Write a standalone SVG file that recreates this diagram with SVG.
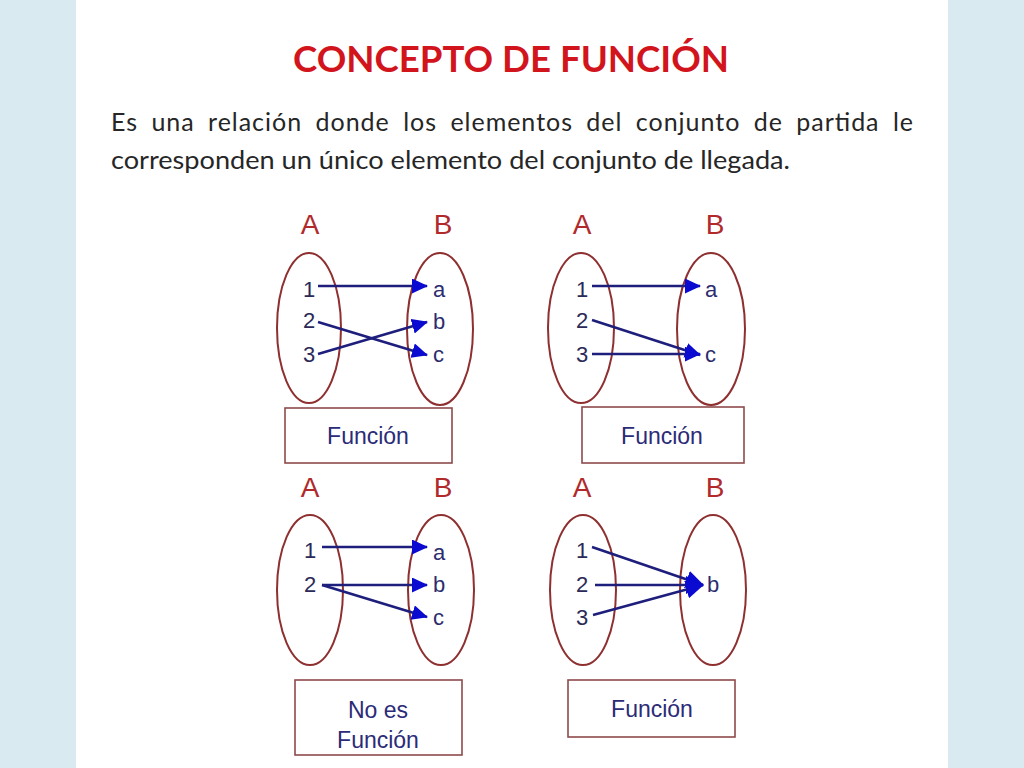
<svg xmlns="http://www.w3.org/2000/svg" width="1024" height="768" viewBox="0 0 1024 768">
<defs>
<style>
.title{font-family:Lato,"Open Sans","Liberation Sans",sans-serif;font-weight:bold;font-size:37px;fill:#d2141c}
.body{font-family:Lato,"Open Sans","Liberation Sans",sans-serif;font-size:25px;fill:#262626}
.set{font-family:"Liberation Sans",Arial,sans-serif;font-size:28px;fill:#b02a2c;text-anchor:middle}
.num{font-family:"Liberation Sans",Arial,sans-serif;font-size:22px;fill:#2a2a58;text-anchor:middle}
.let{font-family:"Liberation Sans",Arial,sans-serif;font-size:22px;fill:#2c2c6e}
.lbl{font-family:"Liberation Sans",Arial,sans-serif;font-size:23px;fill:#2b2b78;text-anchor:middle}
.ell{fill:none;stroke:#8e2f30;stroke-width:2}
.box{fill:#fff;stroke:#8e4a4c;stroke-width:1.6}
.arr{fill:none;stroke:#1e1e7c;stroke-width:2.6;marker-end:url(#ah)}
</style>
<marker id="ah" markerUnits="userSpaceOnUse" markerWidth="18" markerHeight="18" refX="15" refY="7.5" orient="auto">
<path d="M0,0 L16,7.5 L0,15 z" fill="#0a0ad0"/>
</marker>
<marker id="ahb" markerUnits="userSpaceOnUse" markerWidth="20" markerHeight="20" refX="17" refY="9" orient="auto">
<path d="M0,0 L18,9 L0,18 z" fill="#0a0ad0"/>
</marker>
</defs>
<rect x="0" y="0" width="1024" height="768" fill="#daeaf1"/>
<rect x="76" y="0" width="872" height="768" fill="#ffffff"/>
<g id="header">
<text class="title" x="293" y="72" textLength="436" lengthAdjust="spacingAndGlyphs">CONCEPTO DE FUNCIÓN</text>
<text class="body" x="111" y="131" textLength="802" lengthAdjust="spacing" word-spacing="6">Es una relación donde los elementos del conjunto de partida le</text>
<text class="body" x="111" y="169" textLength="679" lengthAdjust="spacingAndGlyphs">corresponden un único elemento del conjunto de llegada.</text>
</g>
<g id="diagram1">
<text class="set" x="310" y="234">A</text>
<text class="set" x="443" y="234">B</text>
<ellipse class="ell" cx="309" cy="328" rx="32" ry="75"/>
<ellipse class="ell" cx="440" cy="329" rx="33" ry="76"/>
<text class="num" x="309" y="297">1</text>
<text class="num" x="309" y="328">2</text>
<text class="num" x="309" y="362">3</text>
<text class="let" x="433" y="297">a</text>
<text class="let" x="433" y="329">b</text>
<text class="let" x="433" y="362">c</text>
<rect class="box" x="285" y="408" width="167" height="55"/>
<text class="lbl" x="368" y="444">Función</text>
</g>
<g id="diagram2">
<text class="set" x="582" y="234">A</text>
<text class="set" x="715" y="234">B</text>
<ellipse class="ell" cx="581" cy="328" rx="33" ry="75"/>
<ellipse class="ell" cx="711" cy="329" rx="34" ry="76"/>
<text class="num" x="582" y="297">1</text>
<text class="num" x="582" y="328">2</text>
<text class="num" x="582" y="362">3</text>
<text class="let" x="705" y="297">a</text>
<text class="let" x="705" y="362">c</text>
<rect class="box" x="582" y="407" width="162" height="56"/>
<text class="lbl" x="662" y="444">Función</text>
</g>
<g id="diagram3">
<text class="set" x="310" y="497">A</text>
<text class="set" x="443" y="497">B</text>
<ellipse class="ell" cx="310" cy="590" rx="33" ry="75"/>
<ellipse class="ell" cx="441" cy="590" rx="33" ry="75"/>
<text class="num" x="310" y="558">1</text>
<text class="num" x="310" y="592">2</text>
<text class="let" x="433" y="560">a</text>
<text class="let" x="433" y="592">b</text>
<text class="let" x="433" y="625">c</text>
<rect class="box" x="295" y="680" width="167" height="75"/>
<text class="lbl" x="378" y="718">No es</text>
<text class="lbl" x="378" y="748">Función</text>
</g>
<g id="diagram4">
<text class="set" x="582" y="497">A</text>
<text class="set" x="715" y="497">B</text>
<ellipse class="ell" cx="583" cy="590" rx="33" ry="75"/>
<ellipse class="ell" cx="713" cy="590" rx="33" ry="75"/>
<text class="num" x="582" y="558">1</text>
<text class="num" x="582" y="592">2</text>
<text class="num" x="582" y="625">3</text>
<text class="let" x="707" y="592">b</text>
<rect class="box" x="568" y="680" width="167" height="57"/>
<text class="lbl" x="652" y="717">Función</text>
</g>
<g id="connectors">
<line class="arr" x1="318" y1="286" x2="427" y2="286"/>
<line class="arr" x1="318" y1="322" x2="427" y2="355"/>
<line class="arr" x1="318" y1="354" x2="427" y2="322"/>
<line class="arr" x1="592" y1="286" x2="700" y2="286"/>
<line class="arr" x1="592" y1="320" x2="700" y2="355"/>
<line class="arr" x1="592" y1="354" x2="700" y2="354"/>
<line class="arr" x1="322" y1="547" x2="427" y2="547"/>
<line class="arr" x1="322" y1="585" x2="427" y2="585"/>
<line class="arr" x1="322" y1="585" x2="427" y2="617"/>
<line class="arr" style="marker-end:url(#ahb)" x1="592" y1="547" x2="703" y2="585"/>
<line class="arr" style="marker-end:url(#ahb)" x1="595" y1="585" x2="703" y2="585"/>
<line class="arr" style="marker-end:url(#ahb)" x1="593" y1="615" x2="703" y2="585"/>
</g>
</svg>
